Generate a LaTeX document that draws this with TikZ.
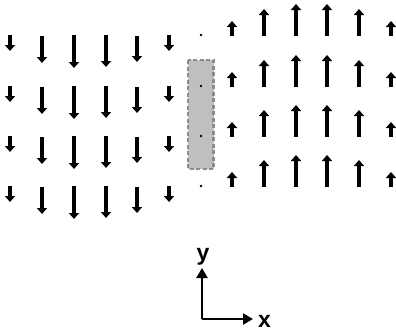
\documentclass[tikz,border=0pt]{standalone}
\usepackage{fontspec}
\setmainfont{Liberation Sans}
\usetikzlibrary{arrows.meta}

\begin{document}
\begin{tikzpicture}[x=1pt,y=-1pt,
    fieldarrow/.style={line width=3.2pt,-{Triangle[length=6pt,width=10pt]}},
    axisarrow/.style={line width=2.2pt,-{Triangle[length=10pt,width=11pt]}},
    axislabel/.style={font=\fontsize{23}{23}\selectfont\bfseries,inner sep=0pt}]
  \useasboundingbox (0,0) rectangle (396,332);
  % gap region
  \draw[line width=2.2pt,draw=black!45,fill=black!25,dash pattern=on 4pt off 2.5pt]
    (188,60) rectangle (213.5,169);
  \foreach \r in {35,86,136,186}{
    % downward arrows (left side)
    \draw[fieldarrow] (10,\r) -- (10,\r+16);
    \draw[fieldarrow] (42,\r+1) -- (42,\r+28);
    \draw[fieldarrow] (74,\r) -- (74,\r+33);
    \draw[fieldarrow] (106,\r) -- (106,\r+32);
    \draw[fieldarrow] (137,\r+1) -- (137,\r+27);
    \draw[fieldarrow] (169,\r) -- (169,\r+16);
    % dot in the middle
    \fill (201,\r) circle (1.4pt);
    % upward arrows (right side)
    \draw[fieldarrow] (232,\r+1) -- (232,\r-14);
    \draw[fieldarrow] (264,\r+1) -- (264,\r-26);
    \draw[fieldarrow] (296,\r+1) -- (296,\r-31);
    \draw[fieldarrow] (327,\r+1) -- (327,\r-31);
    \draw[fieldarrow] (359,\r+1) -- (359,\r-26);
    \draw[fieldarrow] (391,\r+1) -- (391,\r-14);
  }
  % axes
  \coordinate (origin) at (202,319);
  \coordinate (xend) at (253,319);
  \coordinate (yend) at (202,268);
  \draw[axisarrow] (origin) -- (xend);
  \draw[axisarrow] (origin) -- (yend);
  \node[axislabel,anchor=base west] (xlabel) at (258,327) {x};
  \node[axislabel,anchor=base] (ylabel) at (203,260) {y};
\end{tikzpicture}
\end{document}
